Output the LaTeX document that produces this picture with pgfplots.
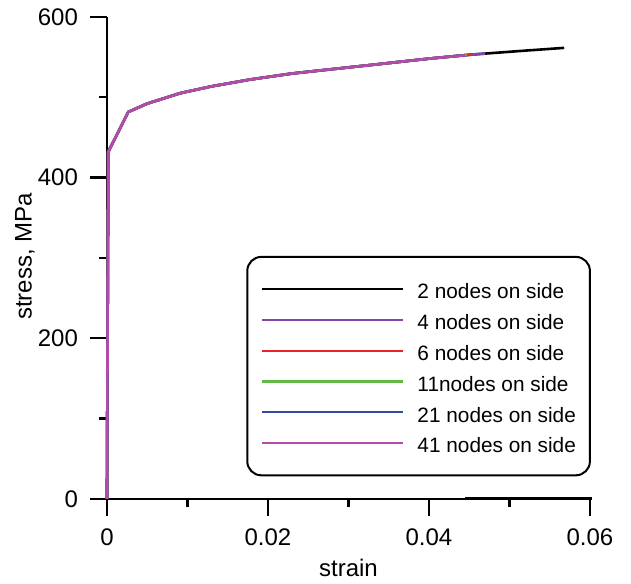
\documentclass[border=0pt]{standalone}
\usepackage{fontspec}
\setmainfont{Liberation Sans}
\usepackage{pgfplots}
\pgfplotsset{compat=1.18}

\definecolor{c4}{RGB}{130,70,170}
\definecolor{c6}{RGB}{235,35,40}
\definecolor{c11}{RGB}{100,185,70}
\definecolor{c21}{RGB}{50,75,165}
\definecolor{c41}{RGB}{180,75,170}

\begin{document}
\begin{tikzpicture}
\begin{axis}[
  scale only axis, width=241.5pt, height=241pt,
  xmin=0, xmax=0.06, ymin=0, ymax=600,
  axis x line=bottom, axis y line=left,
  axis line style={-, line width=1.3pt},
  xtick={0,0.02,0.04,0.06}, ytick={0,200,400,600},
  minor x tick num=1, minor y tick num=1,
  tick align=outside,
  major tick length=8.5pt, minor tick length=4pt,
  every tick/.style={black, line width=1.3pt},
  scaled x ticks=false,
  xticklabel style={/pgf/number format/fixed, /pgf/number format/precision=2, yshift=-3pt},
  yticklabel style={xshift=-2.5pt},
  /pgf/number format/assume math mode=true,
  tick label style={font=\fontsize{12}{14}\selectfont},
  label style={font=\fontsize{12}{14}\selectfont},
  xlabel={strain}, ylabel={stress, MPa},
  xlabel style={at={(rel axis cs:0.5,-0.143)}, anchor=center},
  ylabel style={at={(rel axis cs:-0.17,0.503)}, anchor=center},
  clip=false,
  legend cell align=left,
  legend image code/.code={\draw[#1, line width=1.1pt] (0pt,0pt) -- (70.5pt,0pt);},
  legend style={at={(rel axis cs:1.002,0.504)}, anchor=north east,
    draw=black, line width=1pt, rounded corners=7pt,
    inner xsep=7pt, inner ysep=11.25pt, column sep=6.5pt, row sep=5.7pt,
    font=\fontsize{10.4}{12}\selectfont,
    nodes={inner sep=0pt, text height=9.7pt, text depth=0pt}},
  every axis plot/.append style={line width=1.3pt},
]
\addplot[black] coordinates {
 (0,0) (0.00016,432) (0.00265,481.6) (0.005,492) (0.0091,505) (0.013,513.5)
 (0.0178,522) (0.023,529.5) (0.029,536) (0.035,542.5) (0.04,548) (0.0449,552.7)
 (0.047,554.3) (0.052,558) (0.0568,561.4)};
\addlegendentry{2 nodes on side}
\addplot[c4] coordinates {
 (0,0) (0.00016,432) (0.00265,481.6) (0.005,492) (0.0091,505) (0.013,513.5)
 (0.0178,522) (0.023,529.5) (0.029,536) (0.035,542.5) (0.04,548) (0.0449,552.7)
 (0.047,554.3)};
\addlegendentry{4 nodes on side}
\addplot[c6] coordinates {
 (0,0) (0.00016,432) (0.00265,481.6) (0.005,492) (0.0091,505) (0.013,513.5)
 (0.0178,522) (0.023,529.5) (0.029,536) (0.035,542.5) (0.04,548) (0.0453,553.0)};
\addlegendentry{6 nodes on side}
\addplot[c11] coordinates {
 (0,0) (0.00016,432) (0.00265,481.6) (0.005,492) (0.0091,505) (0.013,513.5)
 (0.0178,522) (0.023,529.5) (0.029,536) (0.035,542.5) (0.04,548) (0.0447,552.5)};
\addlegendentry{11nodes on side}
\addplot[c21] coordinates {
 (0,0) (0.00016,432) (0.00265,481.6) (0.005,492) (0.0091,505) (0.013,513.5)
 (0.0178,522) (0.023,529.5) (0.029,536) (0.035,542.5) (0.04,548) (0.0445,552.3)};
\addlegendentry{21 nodes on side}
\addplot[c41] coordinates {
 (0,0) (0.00016,432) (0.00265,481.6) (0.005,492) (0.0091,505) (0.013,513.5)
 (0.0178,522) (0.023,529.5) (0.029,536) (0.035,542.5) (0.04,548) (0.0445,552.3)};
\addlegendentry{41 nodes on side}
\addplot[black, line width=1.8pt, forget plot] coordinates {(0.0445,0.5) (0.0602,0.5)};
\coordinate (bl) at (rel axis cs:-0.2215,-0.168);
\coordinate (tr) at (rel axis cs:1.085,1.035);
\end{axis}
\path (bl) rectangle (tr);
\end{tikzpicture}
\end{document}
